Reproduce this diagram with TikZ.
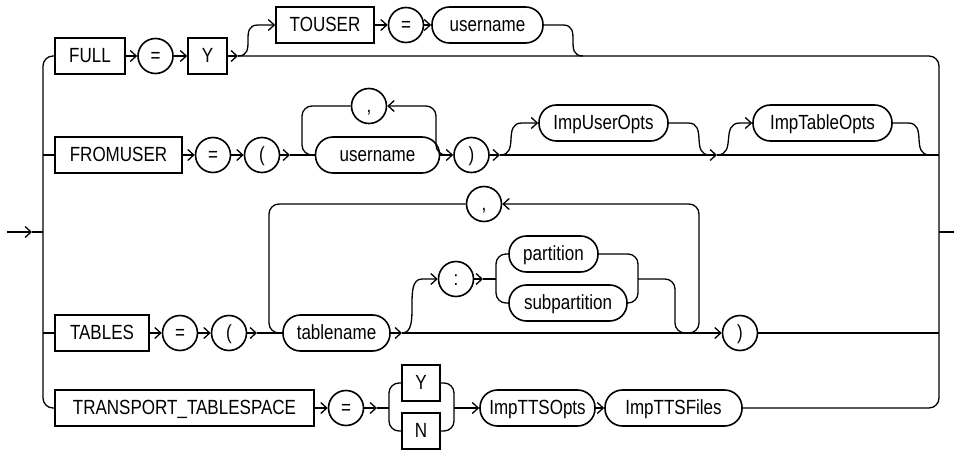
\documentclass[tikz,border=0pt]{standalone}
\usepackage{fontspec}
\setmainfont{Liberation Sans}[FakeStretch=0.83]
\usetikzlibrary{arrows.meta,positioning}

\begin{document}
\begin{tikzpicture}[x=1pt,y=-1pt,>={Straight Barb[length=6pt,width=11pt]},line width=1.3pt,
  font=\fontsize{20.5pt}{23pt}\selectfont]
  \tikzstyle{kwbox}=[draw,rectangle,line width=1.6pt,minimum height=36pt,inner sep=0pt,text height=15pt,text depth=2pt]
  \tikzstyle{ntbox}=[kwbox,rounded corners=17.5pt]
  \tikzstyle{opcirc}=[draw,circle,line width=1.6pt,minimum size=35pt,inner sep=0pt,text height=15pt,text depth=2pt]

  \useasboundingbox (0,0) rectangle (954,452);

  \node[kwbox,minimum width=70pt]  (full)     at (90,56)      {FULL};
  \node[opcirc]                    (eq1)      at (155.5,56)   {=};
  \node[kwbox,minimum width=39pt]  (yes1)     at (207.5,56)   {Y};
  \node[kwbox,minimum width=98pt]  (touser)   at (325,25)     {TOUSER};
  \node[opcirc]                    (eq1b)     at (406,25)     {=};
  \node[ntbox,minimum width=111pt] (user1)    at (487.5,25)   {username};

  \node[kwbox,minimum width=127pt] (fromuser) at (118.5,155)  {FROMUSER};
  \node[opcirc]                    (eq2)      at (213,155)    {=};
  \node[opcirc]                    (lp2)      at (262,155)    {(};
  \node[ntbox,minimum width=124pt] (user2)    at (377.5,155)  {username};
  \node[opcirc]                    (comma2)   at (369,106)    {,};
  \node[opcirc]                    (rp2)      at (471.5,155)  {)};
  \node[ntbox,minimum width=129pt] (userop)   at (603.5,123)  {ImpUserOpts};
  \node[ntbox,minimum width=139pt] (tableop)  at (822.5,123)  {ImpTableOpts};

  \node[kwbox,minimum width=94pt]  (tables)   at (102,333)    {TABLES};
  \node[opcirc]                    (eq3)      at (180,333)    {=};
  \node[opcirc]                    (lp3)      at (229,333)    {(};
  \node[ntbox,minimum width=107pt] (tname)    at (336.5,333)  {tablename};
  \node[opcirc]                    (comma3)   at (484,204)    {,};
  \node[opcirc]                    (colon)    at (456,279)    {:};
  \node[ntbox,minimum width=89pt]  (part)     at (553.5,254)  {partition};
  \node[ntbox,minimum width=118pt] (subpart)  at (568,303)    {subpartition};
  \node[opcirc]                    (rp3)      at (740,333)    {)};

  \node[kwbox,minimum width=259pt] (tts)      at (184.5,408)  {TRANSPORT\_TABLESPACE};
  \node[opcirc]                    (eq4)      at (346,408)    {=};
  \node[kwbox,minimum width=38pt]  (yes4)     at (421,383)    {Y};
  \node[kwbox,minimum width=38pt]  (no4)      at (421,431)    {N};
  \node[ntbox,minimum width=115pt] (ttsopts)  at (537.5,408)  {ImpTTSOpts};
  \node[ntbox,minimum width=137pt] (ttsfiles) at (673.5,408)  {ImpTTSFiles};

  \coordinate (in)    at (7,232);
  \coordinate (inarr) at (32,232);
  \coordinate (lb)    at (43,232);
  \coordinate (rb)    at (939,232);
  \coordinate (out)   at (954,232);
  \coordinate (j1a)   at (238,56);
  \coordinate (k1)    at (258,25);
  \coordinate (d1)    at (563,25);
  \coordinate (e1)    at (583,56);
  \coordinate (j2a)   at (290,155);
  \coordinate (l2)    at (302,155);
  \coordinate (r2)    at (436,106);
  \coordinate (j2b)   at (449,155);
  \coordinate (j2c)   at (500,155);
  \coordinate (k2)    at (522,123);
  \coordinate (d2)    at (688,123);
  \coordinate (e2)    at (710,155);
  \coordinate (j2d)   at (717,155);
  \coordinate (k2b)   at (740,123);
  \coordinate (d2b)   at (908,123);
  \coordinate (e2b)   at (930,155);
  \coordinate (j3a)   at (257,333);
  \coordinate (l3)    at (269,333);
  \coordinate (j3b)   at (402,333);
  \coordinate (k3)    at (422,279);
  \coordinate (j3c)   at (483,279);
  \coordinate (cl3)   at (496,279);
  \coordinate (cr3)   at (638,279);
  \coordinate (u3l)   at (675,333);
  \coordinate (u3)    at (687,333);
  \coordinate (u3r)   at (699,333);
  \coordinate (j4a)   at (377,408);
  \coordinate (cl4)   at (389,408);
  \coordinate (cr4)   at (454,408);

  % outer rails
  \draw[->] (in) -- (inarr);
  \draw (inarr) -- (lb);
  \draw[rounded corners=10pt] (full.west) -| (lb) |- (tts.west);
  \draw (fromuser.west) -- (fromuser.west -| lb);
  \draw (tables.west) -- (tables.west -| lb);
  \draw[rounded corners=10pt] (j1a) -| (rb) |- (ttsfiles.east);
  \draw (rb) -- (out);

  % FULL
  \draw[->] (full) -- (eq1);
  \draw[->] (eq1) -- (yes1);
  \draw[->] (yes1) -- (j1a);
  \draw[->] (j1a) .. controls +(20,0) and +(-20,0) .. (k1) -- (touser.west);
  \draw[->] (touser) -- (eq1b);
  \draw[->] (eq1b) -- (user1);
  \draw (user1.east) -- (d1) .. controls +(20,0) and +(-20,0) .. (e1);

  % FROMUSER
  \draw[->] (fromuser) -- (eq2);
  \draw[->] (eq2) -- (lp2);
  \draw[->] (lp2) -- (j2a);
  \draw (j2a) -- (user2.west);
  \draw[rounded corners=10pt,->] (j2b) -| (r2) -- (comma2.east);
  \draw[rounded corners=10pt] (comma2.west) -| (l2) -- (user2.west);
  \draw[->] (user2) -- (rp2);
  \draw[->] (rp2) -- (j2c);
  \draw[->] (j2c) .. controls +(20,0) and +(-20,0) .. (k2) -- (userop.west);
  \draw (userop.east) -- (d2) .. controls +(20,0) and +(-20,0) .. (e2);
  \draw[->] (j2c) -- (j2d);
  \draw[->] (j2d) .. controls +(20,0) and +(-20,0) .. (k2b) -- (tableop.west);
  \draw (tableop.east) -- (d2b) .. controls +(20,0) and +(-20,0) .. (e2b);
  \draw (j2d) -- (j2d -| rb);

  % TABLES
  \draw[->] (tables) -- (eq3);
  \draw[->] (eq3) -- (lp3);
  \draw[->] (lp3) -- (j3a);
  \draw (j3a) -- (tname);
  \draw[rounded corners=10pt,->] (u3) -- (u3r) |- (comma3.east);
  \draw[rounded corners=10pt] (comma3.west) -| (l3) -- (tname.west);
  \draw[->] (tname) -- (j3b);
  \draw[->] (j3b) .. controls +(20,0) and +(-20,0) .. (k3) -- (colon.west);
  \draw[->] (colon) -- (j3c);
  \draw (j3c) -- (cl3);
  \draw[rounded corners=10pt] (part.west) -| (cl3) |- (subpart.west);
  \draw[rounded corners=10pt] (part.east) -| (cr3) |- (subpart.east);
  \draw[rounded corners=10pt] (cr3) -| (u3l) -- (u3);
  \draw[->] (j3b) -- (rp3);
  \draw (rp3) -- (rp3 -| rb);

  % TRANSPORT_TABLESPACE
  \draw[->] (tts) -- (eq4);
  \draw[->] (eq4) -- (j4a);
  \draw (j4a) -- (cl4);
  \draw[rounded corners=10pt] (yes4.west) -| (cl4) |- (no4.west);
  \draw[rounded corners=10pt] (yes4.east) -| (cr4) |- (no4.east);
  \draw[->] (cr4) -- (ttsopts);
  \draw[->] (ttsopts) -- (ttsfiles);
\end{tikzpicture}
\end{document}
